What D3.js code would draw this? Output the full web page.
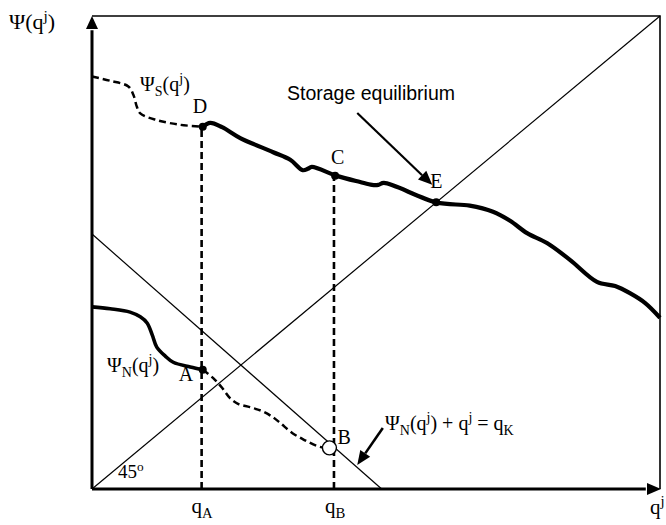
<!DOCTYPE html>
<html>
<head>
<meta charset="utf-8">
<script src="https://cdn.jsdelivr.net/npm/d3@7"></script>
<style>
  body { margin: 0; background: #fff; }
  svg { display: block; }
</style>
</head>
<body>
<div id="chart"></div>
<script>
// Canvas
const width = 666, height = 525;

// Curves, as [q, Psi] in axis units (0..100)
const psiSDashed = [[0, 87.2], [3.2, 86.3], [6.4, 85.1], [7.3, 83.3], [7.9, 80.8], [8.5, 79.4],
    [11.4, 78.0], [15.5, 77.0], [19.5, 76.6]];
const psiSSolid = [[19.5, 76.6], [20.8, 77.4], [22.9, 76.5], [26.1, 74.2], [31.9, 71.2], [34.9, 69.6],
    [37.1, 67.4], [38.0, 67.7], [38.7, 68.1], [43.1, 66.2], [47.2, 64.9], [49.3, 64.3], [50.4, 64.3],
    [51.4, 64.7], [60.6, 60.6], [66.5, 59.9], [70.6, 58.6], [73.6, 56.7], [76.6, 54.1], [80.1, 52.0],
    [84.2, 48.4], [88.9, 43.8], [92.1, 42.9], [94.7, 41.4], [97.4, 39.3], [100, 36.2]];
const psiNSolid = [[0, 38.5], [3.2, 38.1], [6.7, 37.4], [8.5, 36.4], [9.7, 35.1], [10.6, 32.6],
    [11.4, 30.0], [12.9, 28.1], [14.3, 26.8], [17.3, 25.8], [19.5, 25.2]];
const psiNDashed = [[19.5, 25.2], [21.3, 23.5], [22.9, 21.4], [24.3, 19.2], [25.7, 18.0], [27.8, 17.3],
    [29.9, 16.5], [31.7, 15.3], [33.1, 14.0], [35.3, 11.8], [37.5, 10.3], [39.6, 9.1], [40.9, 8.7]];

// Straight lines
const diagonal = [[0, 0], [100, 100]];
const qKLine = [[0, 53.9], [51.0, 0]];

// Marked points
const qA = 19.3, qB = 42.6;
const pointD = [19.5, 76.6], pointC = [42.8, 66.2], pointE = [60.6, 60.6];
const pointA = [19.5, 25.2], pointB = [41.8, 8.7];

// Annotation arrows (from, to)
const storageArrow = [[46.7, 79.5], [59.9, 64.3]];
const qKArrow = [[51.2, 12.9], [46.7, 5.1]];

const x = d3.scaleLinear().domain([0, 100]).range([92, 660]);
const y = d3.scaleLinear().domain([0, 100]).range([489, 16]);

const svg = d3.select("#chart").append("svg")
    .attr("width", width).attr("height", height);

const line = d3.line().x(d => x(d[0])).y(d => y(d[1]));
const smooth = d3.line().x(d => x(d[0])).y(d => y(d[1])).curve(d3.curveCatmullRom.alpha(0.5));

// Frame (top and right)
svg.append("path")
    .attr("d", line([[0, 100], [100, 100], [100, 0]]))
    .attr("fill", "none").attr("stroke", "#000").attr("stroke-width", 1.6);

// 45 degree line and the q_K line
svg.append("path").attr("d", line(diagonal))
    .attr("fill", "none").attr("stroke", "#000").attr("stroke-width", 1.2);
svg.append("path").attr("d", line(qKLine))
    .attr("fill", "none").attr("stroke", "#000").attr("stroke-width", 1.2);

// Dashed verticals
svg.append("path").attr("d", line([[qA, 0], [qA, pointD[1]]]))
    .attr("stroke", "#000").attr("stroke-width", 2.6).attr("stroke-dasharray", "7,4");
svg.append("path").attr("d", line([[qB, 0], [qB, pointC[1]]]))
    .attr("stroke", "#000").attr("stroke-width", 2.6).attr("stroke-dasharray", "7,4");

// Curves
svg.append("path").attr("d", smooth(psiSDashed))
    .attr("fill", "none").attr("stroke", "#000").attr("stroke-width", 2.5).attr("stroke-dasharray", "7,4");
svg.append("path").attr("d", smooth(psiSSolid))
    .attr("fill", "none").attr("stroke", "#000").attr("stroke-width", 4.2).attr("stroke-linejoin", "round");
svg.append("path").attr("d", smooth(psiNSolid))
    .attr("fill", "none").attr("stroke", "#000").attr("stroke-width", 3.6);
svg.append("path").attr("d", smooth(psiNDashed))
    .attr("fill", "none").attr("stroke", "#000").attr("stroke-width", 2.5).attr("stroke-dasharray", "7,4");

// Axes with arrowheads
svg.append("path").attr("d", line([[0, 0], [0, 97]]))
    .attr("stroke", "#000").attr("stroke-width", 3);
svg.append("path").attr("d", line([[0, 0], [97.5, 0]]))
    .attr("stroke", "#000").attr("stroke-width", 3);
const yTip = [x(0), y(100)];
svg.append("path")
    .attr("d", `M${yTip[0]},${yTip[1]}L${yTip[0] - 6},${yTip[1] + 13}L${yTip[0] + 6},${yTip[1] + 13}Z`)
    .attr("fill", "#000");
const xTip = [x(100) + 1, y(0)];
svg.append("path")
    .attr("d", `M${xTip[0]},${xTip[1]}L${xTip[0] - 14},${xTip[1] - 6}L${xTip[0] - 14},${xTip[1] + 6}Z`)
    .attr("fill", "#000");

// Points
[pointD, pointC, pointE, pointA].forEach(p => {
    svg.append("circle").attr("cx", x(p[0])).attr("cy", y(p[1])).attr("r", 4).attr("fill", "#000");
});
svg.append("circle").attr("cx", x(pointB[0])).attr("cy", y(pointB[1])).attr("r", 7)
    .attr("fill", "#fff").attr("stroke", "#000").attr("stroke-width", 1.4);

// Annotation arrows
function arrow(a, headLen, headW, sw) {
    const x1 = x(a[0][0]), y1 = y(a[0][1]), x2 = x(a[1][0]), y2 = y(a[1][1]);
    const ang = Math.atan2(y2 - y1, x2 - x1);
    const bx = x2 - headLen * Math.cos(ang), by = y2 - headLen * Math.sin(ang);
    svg.append("line").attr("x1", x1).attr("y1", y1).attr("x2", bx).attr("y2", by)
        .attr("stroke", "#000").attr("stroke-width", sw);
    const px = -Math.sin(ang) * headW, py = Math.cos(ang) * headW;
    svg.append("path")
        .attr("d", `M${x2},${y2}L${bx + px},${by + py}L${bx - px},${by - py}Z`)
        .attr("fill", "#000");
}
arrow(storageArrow, 14, 6, 2.2);
arrow(qKArrow, 14, 6, 2.6);

// Rich text helper: parts = [text, mode] with mode "sub" / "sup" / undefined
function label(px, py, parts, size) {
    const t = svg.append("text").attr("x", px).attr("y", py)
        .attr("font-family", "'Liberation Serif', 'Times New Roman', serif")
        .attr("font-size", size).attr("fill", "#000");
    let shift = 0;
    parts.forEach(([s, mode]) => {
        const target = mode === "sub" ? size * 0.25 : mode === "sup" ? -size * 0.38 : 0;
        t.append("tspan")
            .attr("dy", target - shift)
            .attr("font-size", mode ? size * 0.7 : size)
            .text(s);
        shift = target;
    });
    return t;
}

const fs = 20;
label(9, 29, [["Ψ(q"], ["j", "sup"], [")"]], 22);
label(x(100) - 10, 514, [["q"], ["j", "sup"]], 21);
label(x(qA) - 10, 513, [["q"], ["A", "sub"]], 21);
label(x(qB) - 9, 513, [["q"], ["B", "sub"]], 21);
label(x(0) + 26, y(0) - 11, [["45"], ["o", "sup"]], 19);
label(140, 91, [["Ψ"], ["S", "sub"], ["(q"], ["j", "sup"], [")"]], fs);
label(107, 372, [["Ψ"], ["N", "sub"], ["(q"], ["j", "sup"], [")"]], fs);
label(385, 430, [["Ψ"], ["N", "sub"], ["(q"], ["j", "sup"], [") + q"], ["j", "sup"], [" = q"], ["K", "sub"]], fs);
label(x(pointD[0]) - 10, y(pointD[1]) - 14, [["D"]], fs);
label(x(pointC[0]) - 4, y(pointC[1]) - 12, [["C"]], fs);
label(x(pointE[0]) - 6, y(pointE[1]) - 14, [["E"]], fs);
label(x(pointA[0]) - 24, y(pointA[1]) + 11, [["A"]], fs);
label(x(pointB[0]) + 8, y(pointB[1]) - 4, [["B"]], fs);

svg.append("text").attr("x", 287).attr("y", 100)
    .attr("font-family", "'Liberation Sans', Arial, sans-serif")
    .attr("font-size", 19.5).attr("fill", "#000")
    .text("Storage equilibrium");
</script>
</body>
</html>
